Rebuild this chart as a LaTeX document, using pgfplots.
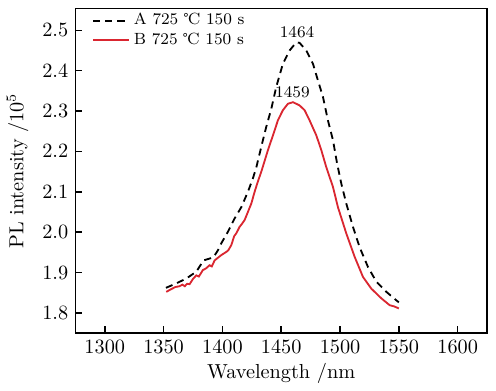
\documentclass[border=0pt]{standalone}
\usepackage{pgfplots}
\pgfplotsset{compat=1.18}
\usepackage{textcomp}
\definecolor{bred}{RGB}{218,38,48}
\begin{document}
\begin{tikzpicture}
\begin{axis}[
  width=203pt, height=160pt, scale only axis,
  xmin=1275, xmax=1625, ymin=1.75, ymax=2.554,
  xtick={1300,1350,1400,1450,1500,1550,1600},
  ytick={1.8,1.9,2.0,2.1,2.2,2.3,2.4,2.5},
  xtick pos=left, ytick pos=left, tick align=inside,
  major tick length=3.3pt,
  axis line style={line width=0.8pt},
  every tick/.style={line width=0.8pt, black},
  x tick label style={/pgf/number format/set thousands separator={}},
  y tick label style={/pgf/number format/fixed, /pgf/number format/precision=1, /pgf/number format/fixed zerofill},
  xlabel={Wavelength /nm},
  ylabel={PL intensity /10$^5$},
  xlabel style={yshift=2pt},
  legend style={at={(rel axis cs:0.035,1.005)}, anchor=north west, draw=none, fill=none, font=\footnotesize, row sep=-1.5pt, inner sep=1pt},
  legend cell align=left,
  legend image code/.code={\draw[#1] (0cm,0cm) -- (0.62cm,0cm);},
]
\addplot[black, line width=0.9pt, dash pattern=on 3.5pt off 2.5pt] coordinates {
(1352,1.862) (1360.8,1.873) (1369.3,1.885) (1377.8,1.902) (1384,1.930)
(1391.9,1.937) (1394,1.945) (1396.2,1.955) (1399,1.972) (1404.7,2.001)
(1410.4,2.034) (1416.1,2.062) (1421.7,2.100) (1425.9,2.133) (1428.8,2.160)
(1433.1,2.212) (1437.3,2.261) (1441.6,2.306) (1445.8,2.360) (1451.4,2.417)
(1457.1,2.450) (1462.8,2.470) (1465.6,2.469) (1471.3,2.450) (1477,2.417)
(1481.2,2.376) (1485.5,2.335) (1489.7,2.277) (1494,2.228) (1497.5,2.170)
(1501.1,2.120) (1505.3,2.071) (1511,2.013) (1516.6,1.963) (1523.7,1.914)
(1530.9,1.877) (1539.4,1.852) (1547.9,1.831) (1550,1.826)
};
\addlegendentry{A 725 \textcelsius\ 150 s}
\addplot[bred, line width=0.9pt] coordinates {
(1352.3,1.852) (1356,1.858) (1360,1.864) (1363.6,1.866) (1366,1.870)
(1368,1.866) (1370,1.872) (1372.1,1.871) (1375,1.884) (1377.8,1.893)
(1380,1.890) (1383.4,1.906) (1386,1.910) (1389.1,1.918) (1391,1.915)
(1393.4,1.930) (1396,1.936) (1399,1.943) (1403.3,1.951) (1405,1.955)
(1407.6,1.968) (1410,1.990) (1411.8,1.997) (1414.6,2.013) (1416.5,2.020)
(1418.9,2.030) (1421,2.045) (1424.6,2.071) (1427.4,2.100) (1430,2.124)
(1433.1,2.150) (1438.7,2.203) (1443,2.240) (1447.2,2.277) (1451.4,2.302)
(1455.7,2.318) (1460,2.322) (1465.6,2.314) (1469.9,2.302) (1474.1,2.277)
(1479.8,2.240) (1484.1,2.203) (1488.3,2.161) (1494,2.112) (1498.2,2.062)
(1505.3,1.997) (1512.4,1.939) (1519.5,1.889) (1526.6,1.860) (1535.1,1.836)
(1542.2,1.819) (1546,1.816) (1550,1.811)
};
\addlegendentry{B 725 \textcelsius\ 150 s}
\node[font=\footnotesize, anchor=south, inner sep=1pt] at (axis cs:1463.5,2.475) {1464};
\node[font=\footnotesize, anchor=south, inner sep=1pt] at (axis cs:1459.5,2.326) {1459};
\coordinate (NE) at (rel axis cs:1,1);
\end{axis}
\path (NE) ++(4.4pt,4.2pt);
\end{tikzpicture}
\end{document}
